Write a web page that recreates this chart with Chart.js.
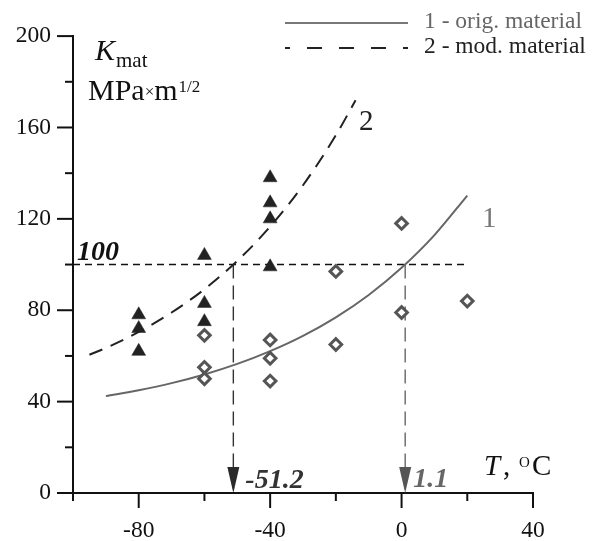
<!DOCTYPE html>
<html><head><meta charset="utf-8">
<script src="https://cdn.jsdelivr.net/npm/chart.js@4"></script>
<style>html,body{margin:0;padding:0;background:#fff;}#wrap{width:597px;height:541px;position:relative;}</style>
</head><body><div id="wrap"><canvas id="c" width="597" height="541"></canvas></div>
<script>
// ---- data ----
const xTickLabels = [-80, -40, 0, 40];
const yTickLabels = [0, 40, 80, 120, 160, 200];
const origT = [-60, -60, -60, -40, -40, -40, -20, -20, 0, 0, 20];
const origK = [69, 55, 50, 67, 59, 49, 97, 65, 118, 79, 84];
const modT = [-80, -80, -80, -60, -60, -60, -40, -40, -40, -40];
const modK = [78, 72, 62, 104, 83, 75, 138, 127, 120, 99];
const curve1T = [-90, -80, -70, -60, -50, -40, -30, -20, -10, 0, 10, 20];
const curve1K = [42.4, 45.0, 48.1, 51.9, 56.5, 62.1, 68.8, 76.9, 86.7, 98.6, 112.9, 130.2];
const curve2T = [-95, -90, -80, -70, -60, -50, -40, -30, -20, -14];
const curve2K = [60.5, 63.5, 70.5, 79.0, 89.2, 101.6, 116.6, 134.7, 156.6, 171.9];
const refK = [100, 100];
const refLineT = [-100, 20];
const refT = [-51.2, 1.1];
const refTLabels = ['-51.2', '1.1'];
const legendLabels = ['1 - orig. material', '2 - mod. material'];

const serif = '"Liberation Serif", "Times New Roman", serif';
const pts = (xs, ys) => xs.map((v, i) => ({x: v, y: ys[i]}));

const deco = {
  id: 'deco',
  afterDraw(chart) {
    const {ctx, scales: {x, y}} = chart;
    ctx.save();
    // axis ticks (major outward, minor shorter)
    ctx.strokeStyle = '#111'; ctx.lineWidth = 2;
    for (let v = -100; v <= 40; v += 20) {
      const px = x.getPixelForValue(v);
      const len = (v % 40 === 0) ? 15 : 8;
      ctx.beginPath(); ctx.moveTo(px, y.bottom); ctx.lineTo(px, y.bottom + len); ctx.stroke();
    }
    for (let v = 0; v <= 200; v += 20) {
      const py = y.getPixelForValue(v);
      const len = (v % 40 === 0) ? 16 : 8;
      ctx.beginPath(); ctx.moveTo(x.left, py); ctx.lineTo(x.left - len, py); ctx.stroke();
    }
    // arrows
    const arrowCol = ['#2a2a2a', '#555'];
    refT.forEach((t, i) => {
      const px = x.getPixelForValue(t), py = y.getPixelForValue(0);
      ctx.fillStyle = arrowCol[i];
      ctx.beginPath(); ctx.moveTo(px, py); ctx.lineTo(px - 6, py - 26); ctx.lineTo(px + 6, py - 26); ctx.closePath(); ctx.fill();
    });
    // labels
    const txt = (s, px, py, font, col) => { ctx.font = font; ctx.fillStyle = col; ctx.textBaseline = 'alphabetic'; ctx.textAlign = 'left'; ctx.fillText(s, px, py); return px + ctx.measureText(s).width; };
    txt(String(refK[0]), 77, 260, 'bold italic 28px ' + serif, '#111');
    txt(refTLabels[0], x.getPixelForValue(refT[0]) + 12, 488, 'bold italic 28px ' + serif, '#333');
    txt(refTLabels[1], x.getPixelForValue(refT[1]) + 8, 487, 'bold italic 28px ' + serif, '#666');
    txt('2', 359, 130, '29px ' + serif, '#222');
    txt('1', 482, 227, '29px ' + serif, '#777');
    // y title
    let e = txt('K', 95, 60, 'italic 30px ' + serif, '#111');
    txt('mat', e + 1, 67, '21px ' + serif, '#111');
    e = txt('MPa', 88, 100, '30px ' + serif, '#111');
    e = txt('\u00d7', e, 97, '17px ' + serif, '#111');
    e = txt('m', e, 100, '30px ' + serif, '#111');
    txt('1/2', e + 1, 92, '17px ' + serif, '#111');
    // x title
    txt('T', 484, 475, 'italic 29px ' + serif, '#111');
    txt(',', 503, 475, '29px ' + serif, '#111');
    txt('O', 519, 467, '15px ' + serif, '#111');
    txt('C', 532, 475, '29px ' + serif, '#111');
    // legend
    ctx.lineWidth = 2;
    ctx.strokeStyle = '#777'; ctx.setLineDash([]);
    ctx.beginPath(); ctx.moveTo(285, 23); ctx.lineTo(408, 23); ctx.stroke();
    ctx.strokeStyle = '#222'; ctx.setLineDash([15, 17]); ctx.lineDashOffset = 10;
    ctx.beginPath(); ctx.moveTo(285, 48); ctx.lineTo(408, 48); ctx.stroke();
    ctx.setLineDash([]);
    txt(legendLabels[0], 424, 28, '23.5px ' + serif, '#666');
    txt(legendLabels[1], 424, 53, '23.5px ' + serif, '#222');
    ctx.restore();
  }
};

new Chart(document.getElementById('c'), {
  type: 'scatter',
  data: {
    datasets: [
      { label: 'mod', data: pts(modT, modK), pointStyle: 'triangle', pointRadius: 8, backgroundColor: '#222', borderColor: '#222', borderWidth: 0.5 },
      { label: 'orig', data: pts(origT, origK), pointStyle: 'rectRot', pointRadius: 5.8, backgroundColor: '#fff', borderColor: '#555', borderWidth: 3 },
      { label: 'curve1', data: pts(curve1T, curve1K), showLine: true, pointRadius: 0, borderColor: '#666', borderWidth: 2, cubicInterpolationMode: 'monotone' },
      { label: 'curve2', data: pts(curve2T, curve2K), showLine: true, pointRadius: 0, borderColor: '#222', borderWidth: 2, borderDash: [14, 9], cubicInterpolationMode: 'monotone' },
      { label: 'h100', data: pts(refLineT, refK), showLine: true, pointRadius: 0, borderColor: '#111', borderWidth: 1.4, borderDash: [7, 5] },
      { label: 'v1', data: pts([refT[0], refT[0]], [refK[0], 0]), showLine: true, pointRadius: 0, borderColor: '#333', borderWidth: 1.4, borderDash: [14, 7] },
      { label: 'v2', data: pts([refT[1], refT[1]], [refK[0], 0]), showLine: true, pointRadius: 0, borderColor: '#666', borderWidth: 1.4, borderDash: [14, 7] }
    ]
  },
  options: {
    responsive: false, animation: false, devicePixelRatio: 1,
    layout: { padding: { top: 34, right: 64, left: 0, bottom: 0 } },
    plugins: { legend: { display: false }, tooltip: { enabled: false } },
    scales: {
      x: {
        type: 'linear', min: -100, max: 40,
        afterFit: s => { s.height = 48; },
        grid: { drawOnChartArea: false, drawTicks: false },
        border: { display: true, color: '#111', width: 2 },
        ticks: { stepSize: 20, padding: 24, color: '#111', font: { family: serif, size: 23.5 },
          callback: v => xTickLabels.includes(v) ? String(v) : '' }
      },
      y: {
        min: 0, max: 200,
        afterFit: s => { s.width = 73; },
        grid: { drawOnChartArea: false, drawTicks: false },
        border: { display: true, color: '#111', width: 2 },
        ticks: { stepSize: 20, padding: 22, color: '#111', font: { family: serif, size: 23.5 },
          callback: v => yTickLabels.includes(v) ? String(v) : '' }
      }
    }
  },
  plugins: [deco]
});
</script></body></html>
